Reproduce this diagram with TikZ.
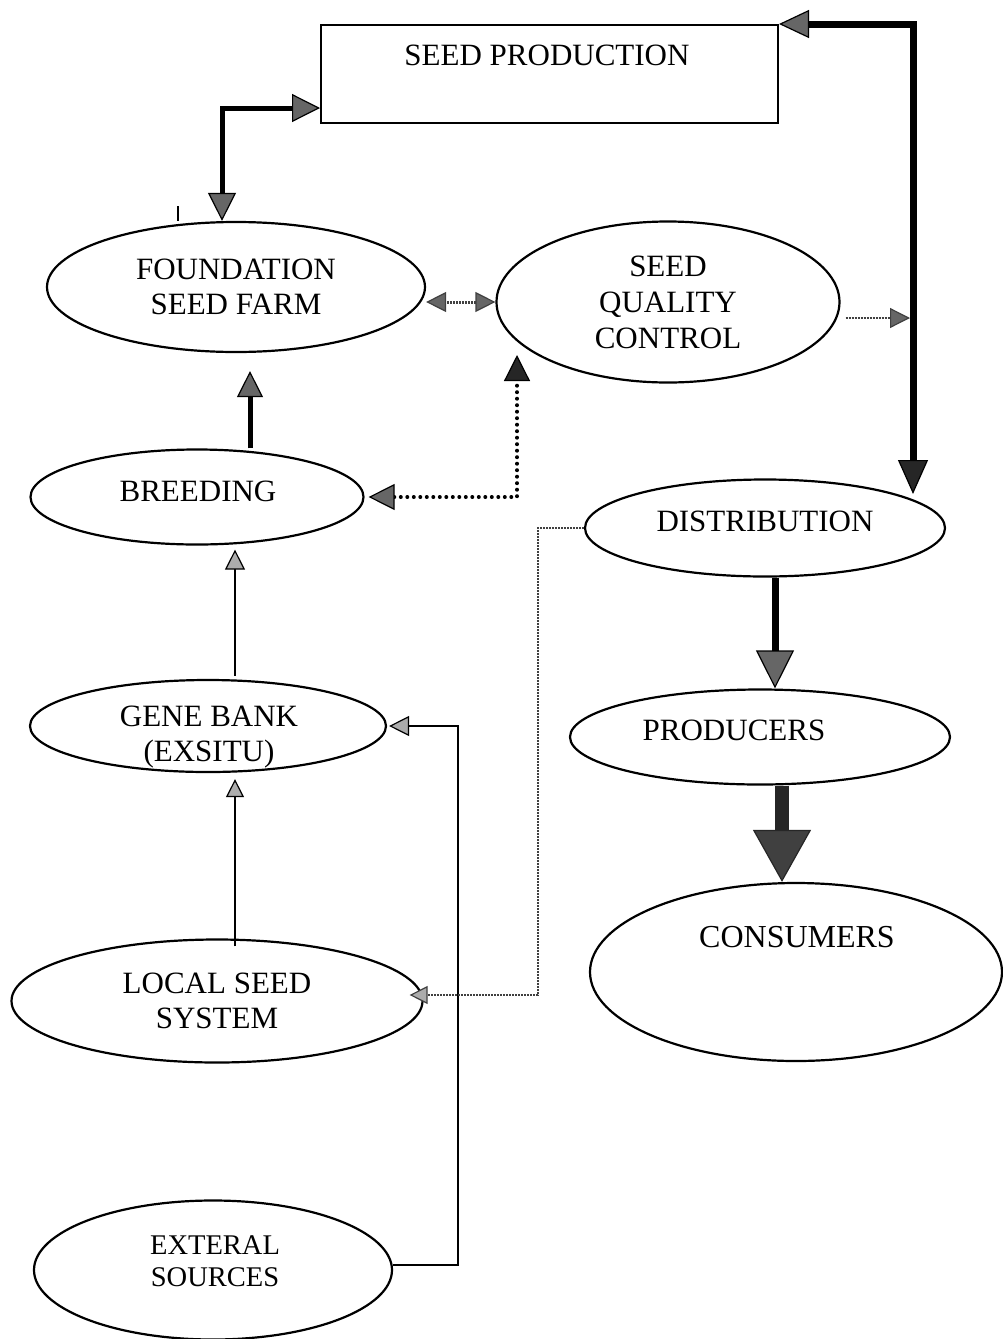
\documentclass[tikz,border=0pt]{standalone}
\usepackage{fontspec}
\setmainfont{Liberation Serif}
\usetikzlibrary{shapes.geometric,arrows.meta,calc}
\begin{document}
\begin{tikzpicture}[x=1pt,y=-1pt,
  every node/.style={font=\fontsize{31}{35}\selectfont},
  oval/.style={draw, ellipse, line width=2.2pt, inner sep=0pt, align=center},
  box/.style={draw, rectangle, line width=2pt, inner sep=0pt},
  txt/.style={align=center, inner sep=0pt},
  heavy/.style={line width=5pt},
  heavier/.style={line width=7pt},
  heaviest/.style={line width=14pt, draw=black!85},
  thin line/.style={line width=2.4pt},
  fine dots/.style={line width=2pt, draw=black!75, dash pattern=on 2pt off 1pt},
  big dots/.style={line width=4pt, dash pattern=on 0pt off 6.5pt, line cap=round},
  hd/.style={-{Triangle[length=#1,width=#1,line width=1.2pt,fill=gray!65]}},
  dkhd/.style={-{Triangle[length=#1,width=#1,line width=1.2pt,fill=black!60]}},
  dhd/.style={{Triangle[length=#1,width=#1,line width=1.2pt,fill=black!60]}-{Triangle[length=#1,width=#1,line width=1.2pt,fill=black!60]}},
]
\useasboundingbox (0,0) rectangle (1002,1339);

% boxes and ovals
\node[box, minimum width=457pt, minimum height=98pt] (sp) at (549.5,74) {};
\node[txt] (sptxt) at (547,55) {SEED PRODUCTION};

\node[oval, minimum width=378pt, minimum height=130pt] (fsf) at (236,287) {FOUNDATION\\SEED FARM};
\node[oval, minimum width=343pt, minimum height=161pt, font=\fontsize{31}{36}\selectfont] (sqc) at (668,302) {SEED\\QUALITY\\CONTROL};
\node[oval, minimum width=333pt, minimum height=95pt] (brd) at (197,497) {};
\node[txt] (brdtxt) at (198,491) {BREEDING};
\node[oval, minimum width=360pt, minimum height=97pt] (dist) at (765,528) {};
\node[txt] (disttxt) at (765,521) {DISTRIBUTION};
\node[oval, minimum width=380pt, minimum height=95pt] (prod) at (760,737) {};
\node[txt] (prodtxt) at (734,730) {PRODUCERS};
\node[oval, minimum width=412pt, minimum height=178pt] (cons) at (796,972) {};
\node[txt, font=\fontsize{32}{36}\selectfont] (constxt) at (797,937) {CONSUMERS};
\node[oval, minimum width=356pt, minimum height=92pt] (gene) at (208,726) {};
\node[txt] (genetxt) at (209,737) {GENE BANK\\(EXSITU)};
\node[oval, minimum width=411pt, minimum height=123pt] (local) at (217,1001) {LOCAL SEED\\SYSTEM};
\node[oval, minimum width=358pt, minimum height=139pt] (ext) at (213,1270) {};
\node[txt, font=\fontsize{28.5}{32}\selectfont] (exttxt) at (215,1261) {EXTERAL\\SOURCES};

% stray stroke above the foundation farm
\draw[line width=1.2pt] (178,206) -- (178,221);

% foundation farm <-> seed production
\draw[heavy, dhd=28pt] ($(fsf.north)+(-14,0)$) |- ($(sp.south west)+(0,-16)$);

% seed production <-> distribution (right trunk)
\coordinate (trunkfoot) at (913,494);
\draw[heavier, {Triangle[length=30pt,width=28pt,line width=1.2pt,fill=black!60]}-{Triangle[length=34pt,width=30pt,line width=1.2pt,fill=black!85]}]
  (sp.north east) -| (trunkfoot);

% foundation farm <-> seed quality control
\draw[fine dots, line width=3pt, dhd=20pt] (sqc.west) -- (sqc.west -| fsf.east);

% seed quality control -> trunk
\draw[fine dots, dkhd=20pt] ($(sqc.east)+(5,16)$) -- ($(trunkfoot |- sqc.east)+(-3,16)$);

% breeding <-> seed quality control
\draw[big dots, {Triangle[length=26pt,width=26pt,line width=1.2pt,fill=black!60]}-{Triangle[length=26pt,width=26pt,line width=1.2pt,fill=black!85]}]
  ($(brd.east)+(4,0)$) -| ($(sqc.center)+(-151,53)$);

% breeding -> foundation farm
\draw[heavy, dkhd=26pt] ($(brd.north)+(53,0)$) -- ($(fsf.south)+(14,18)$);

% gene bank -> breeding
\draw[thin line, hd=20pt] ($(gene.north)+(27,-3)$) -- ($(brd.south)+(38,4)$);

% local seed system -> gene bank
\draw[thin line, hd=18pt] ($(local.north)+(18,8)$) -- ($(gene.south)+(27,6)$);

% external sources -> gene bank
\draw[thin line, hd=20pt] ($(ext.east)+(0,-5)$) -- ++(65,0) |- ($(gene.east)+(2,0)$);

% distribution -> local seed system
\draw[fine dots, hd=18pt] (dist.west) -- ++(-46,0) |- ($(local.east)+(-14,-6)$);

% distribution -> producers
\draw[heavier, dkhd=38pt] ($(dist.south)+(10,0)$) -- ($(prod.north)+(15,0)$);

% producers -> consumers
\draw[heaviest, -{Triangle[length=52pt,width=58pt,line width=1.2pt,fill=black!75]}] ($(prod.south)+(22,0)$) -- ($(cons.north)+(-14,0)$);
\end{tikzpicture}
\end{document}
